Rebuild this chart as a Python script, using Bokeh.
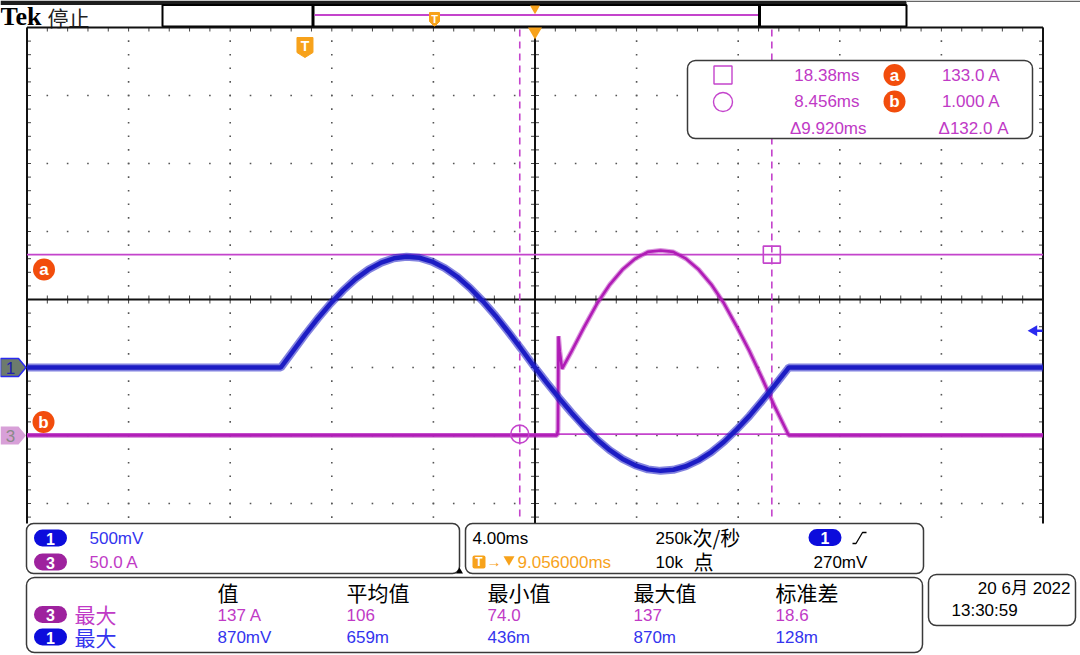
import math
from bokeh.plotting import figure
from bokeh.models import Range1d
from bokeh.embed import file_html
from bokeh.resources import INLINE
from bokeh.core.properties import value

# Channel 1 (voltage), time in ms relative to trigger, value in mV
ch1_t_ms = [-10.944, -0.95, 0.0, 0.5, 1.0, 1.5, 2.0, 2.5, 3.0, 3.5, 4.0, 4.5, 5.0, 5.5,
            6.0, 6.5, 7.0, 7.5, 8.0, 8.5, 9.0, 9.5, 10.0, 10.5, 11.0, 11.5, 12.0, 12.5,
            13.0, 13.5, 14.0, 14.5, 15.0, 15.5, 16.0, 16.5, 17.0, 17.5, 18.0, 18.5,
            19.0, 19.05, 29.056]
ch1_mV = [0, 0, 240, 359, 469, 567, 652, 720, 771, 803, 815, 807, 779, 732,
          667, 585, 488, 381, 263, 140, 13, -107, -223, -334, -437, -529, -608, -672,
          -719, -749, -760, -752, -726, -682, -622, -546, -455, -356, -245, -130,
          -12, 0, 0]
# Channel 3 (current), time in ms, value in A
ch3_t_ms = [-10.944, 9.92, 9.96, 9.98, 10.03, 10.12, 10.5, 11.0, 11.5, 12.0, 12.5, 13.0, 13.5, 14.0,
            14.5, 15.0, 15.5, 16.0, 16.5, 17.0, 17.5, 18.0, 18.5, 19.05, 29.056]
ch3_A = [0, 0, 4, 73, 62, 49, 62, 80, 97, 111, 122, 130, 135, 136,
         135, 130, 122, 111, 97, 80, 62, 42, 21, 0, 0]

cursor_t_ms = [18.38, 8.456]      # square, circle
cursor_A = [133.0, 1.0]           # a, b
trigger_level_mV = 270

readout_time = ["18.38ms", "8.456ms", "\u03949.920ms"]
readout_amp = ["133.0 A", "1.000 A", "\u0394132.0 A"]
chan_scale = ["500mV", "50.0 A"]
horiz_text = ["4.00ms", "9.056000ms", "250k", "\u6b21/\u79d2", "10k ", "\u70b9", "270mV"]
meas_headers = ["\u503c", "\u5e73\u5747\u503c", "\u6700\u5c0f\u503c", "\u6700\u5927\u503c", "\u6807\u51c6\u5dee"]
meas_ch3 = ["137 A", "106", "74.0", "137", "18.6"]
meas_ch1 = ["870mV", "659m", "436m", "870m", "128m"]
meas_label = "\u6700\u5927"
date_text = ["20 6\u6708 2022", "13:30:59"]

# scope settings
MS_PER_DIV = 4.0
H_POS_MS = 9.056
CH1_MV_PER_DIV = 500.0
CH3_A_PER_DIV = 50.0
CH1_POS_DIV = -1.0
CH3_POS_DIV = -2.0

# ---------------- geometry (screen layout) ----------------
REF_W, REF_H = 1080, 655
W, H = 1080, 655
GX0, GX1 = 26.5, 1042.5
GYT, GYB = 27.0, 521.0
DX, DY = 101.6, 68.0
XC = (GX0 + GX1) / 2
YC = GYT + 4 * DY

def t_of(px):
    return H_POS_MS + (px - XC) / DX * MS_PER_DIV

def px_of_t(t):
    return XC + (t - H_POS_MS) / MS_PER_DIV * DX

def ch1_of(py):
    return ((YC - py) / DY - CH1_POS_DIV) * CH1_MV_PER_DIV

def ch3_of(py):
    return ((YC - py) / DY - CH3_POS_DIV) * CH3_A_PER_DIV

SANS = "Liberation Sans"
CJK = "Noto Sans CJK SC"
SERIF = "Liberation Serif"
BLUE_TR = "#1c1cc4"
BLUE_TX = "#3434ee"
BLUE_PILL = "#0c0cdc"
MAG_TR = "#b01cb6"
MAG_CUR = "#c444cc"
MAG_TX = "#c03ac6"
MAG_PILL = "#9e229e"
ORANGE = "#f7a21b"
RED_OR = "#f24d0c"
FRAME = "#3a3a3a"

p = figure(width=W, height=H, x_range=Range1d(0, REF_W), y_range=Range1d(REF_H, 0),
           output_backend="svg", toolbar_location=None, min_border=0,
           x_axis_location=None, y_axis_location=None)
p.grid.visible = False
p.outline_line_color = None
p.background_fill_color = "white"
p.border_fill_color = "white"
p.extra_x_ranges = {"t": Range1d(t_of(0), t_of(REF_W))}
p.extra_y_ranges = {"ch1": Range1d(ch1_of(REF_H), ch1_of(0)),
                    "ch3": Range1d(ch3_of(REF_H), ch3_of(0))}


def txt(x, y, s, color="black", size="17px", font=SANS, align="left", style="normal", **kw):
    p.text(x=[x], y=[y], text=[s], text_color=color, text_font=value(font),
           text_font_size=size, text_align=align, text_baseline="middle",
           text_font_style=style, **kw)


def shield(cx, cy, w, h, color):
    p.patch([cx - w / 2, cx + w / 2, cx + w / 2, cx, cx - w / 2],
            [cy - h / 2, cy - h / 2, cy + h / 2 - 5, cy + h / 2, cy + h / 2 - 5],
            fill_color=color, line_color=color, line_width=1)


def pill(cx, cy, label, color):
    p.quad(left=cx - 16.5, right=cx + 16.5, top=cy - 8.5, bottom=cy + 8.5,
           fill_color=color, line_color=None, border_radius=9)
    txt(cx, cy + 0.5, label, color="white", size="16px", align="center", style="bold")


def badge(cx, cy, label):
    p.scatter(x=[cx], y=[cy], marker="circle", size=22, fill_color=RED_OR, line_color=None)
    txt(cx, cy, label, color="white", size="17px", align="center", style="bold")


# ---------------- top bar ----------------
p.quad(left=0, right=906, top=0, bottom=4.5, fill_color="#1e1e1e", line_color=None)
p.quad(left=906, right=REF_W, top=0, bottom=1.5, fill_color="#666666", line_color=None)
txt(0, 16, "Tek", size="26px", font=SERIF, style="bold")
txt(47, 16, "\u505c\u6b62", size="21px", font=CJK, color="#222222")
p.quad(left=162, right=906, top=4.5, bottom=26, fill_color="white", line_color="black", line_width=2)
p.segment(x0=[312.5, 759], y0=[4.5, 4.5], x1=[312.5, 759], y1=[26, 26], line_color="black", line_width=3)
p.segment(x0=[314], y0=[14.5], x1=[757.5], y1=[14.5], line_color=MAG_CUR, line_width=2)
shield(434, 19, 10, 14, ORANGE)
txt(434, 18, "T", color="white", size="11px", align="center", style="bold")
p.scatter(x=[H_POS_MS], y=[8], x_range_name="t", marker="inverted_triangle", size=10,
          fill_color=ORANGE, line_color=None)

# ---------------- graticule ----------------
xs_minor = [GX0 + k * DX / 5 for k in range(51)]
ys_minor = [GYT + k * DY / 5 for k in range(41) if GYT + k * DY / 5 <= GYB]

dot_x, dot_y = [], []
for k in range(1, 10):
    if k == 5:
        continue
    for yy in ys_minor[1:]:
        dot_x.append(GX0 + k * DX)
        dot_y.append(yy)
for k in range(1, 8):
    if k == 4:
        continue
    yy = GYT + k * DY
    if yy > GYB:
        continue
    for xx in xs_minor[1:-1]:
        dot_x.append(xx)
        dot_y.append(yy)
p.rect(x=dot_x, y=dot_y, width=1.6, height=1.6, fill_color="#555555", line_color=None)

# ticks on centre lines and borders
tx0, ty0, tx1, ty1 = [], [], [], []
for xx in xs_minor:
    tx0 += [xx, xx]; ty0 += [YC - 4, GYT]; tx1 += [xx, xx]; ty1 += [YC + 4, GYT + 4]
for yy in ys_minor:
    tx0 += [XC - 4, GX1 - 4, GX0]; ty0 += [yy, yy, yy]
    tx1 += [XC + 4, GX1, GX0 + 4]; ty1 += [yy, yy, yy]
p.segment(x0=tx0, y0=ty0, x1=tx1, y1=ty1, line_color="#444444", line_width=1)

p.segment(x0=[GX0, GX0, GX1, GX0, XC], y0=[GYT, GYT, GYT, YC, 36],
          x1=[GX1, GX0, GX1, GX1, XC], y1=[GYT, GYB + 2, GYB + 2, YC, GYB + 2],
          line_color="#111111", line_width=2)

# trigger markers
shield(px_of_t(0.0), 47, 16, 20, ORANGE)
txt(px_of_t(0.0), 45.5, "T", color="white", size="14px", align="center", style="bold")
p.scatter(x=[H_POS_MS], y=[31], x_range_name="t", marker="inverted_triangle", size=14,
          fill_color=ORANGE, line_color=None)

# ---------------- cursors ----------------
p.segment(x0=[GX0, GX0], x1=[GX1, GX1], y0=cursor_A, y1=cursor_A, y_range_name="ch3",
          line_color=MAG_CUR, line_width=1.6)
p.segment(x0=cursor_t_ms, x1=cursor_t_ms, y0=[GYT + 2, GYT + 2], y1=[GYB, GYB], x_range_name="t",
          line_color=MAG_CUR, line_width=1.6, line_dash="7 5")

# ---------------- waveforms ----------------
p.line(ch3_t_ms, ch3_A, x_range_name="t", y_range_name="ch3", line_color=MAG_TR,
       line_width=5, line_alpha=0.45)
p.line(ch3_t_ms, ch3_A, x_range_name="t", y_range_name="ch3", line_color=MAG_TR,
       line_width=2.6)
p.line(ch1_t_ms, ch1_mV, x_range_name="t", y_range_name="ch1", line_color=BLUE_TR,
       line_width=8, line_alpha=0.55)
p.line(ch1_t_ms, ch1_mV, x_range_name="t", y_range_name="ch1", line_color=BLUE_TR,
       line_width=4.5)

p.scatter(x=[cursor_t_ms[0]], y=[cursor_A[0]], x_range_name="t", y_range_name="ch3",
          marker="square", size=17, fill_color=None, line_color=MAG_CUR, line_width=1.6)
p.scatter(x=[cursor_t_ms[1]], y=[cursor_A[1]], x_range_name="t", y_range_name="ch3",
          marker="circle", size=18, fill_color=None, line_color=MAG_CUR, line_width=1.6)

badge(43.5, 269, "a")
badge(43, 421.5, "b")

# channel ground markers
g1 = YC - CH1_POS_DIV * DY
g3 = YC - CH3_POS_DIV * DY
p.patch([0, 18, 25.5, 18, 0], [g1 - 9, g1 - 9, g1, g1 + 9, g1 + 9],
        fill_color="#6d7b6d", line_color="#2a2af0", line_width=1.5)
txt(10, g1 + 0.5, "1", color="#2020b0", size="17px", align="center")
p.patch([0, 18, 25.5, 18, 0], [g3 - 9, g3 - 9, g3, g3 + 9, g3 + 9],
        fill_color="#d8a0d8", line_color=None)
txt(10, g3 + 0.5, "3", color="#8a8a8a", size="17px", align="center")

# trigger level arrow (right edge)
p.scatter(x=[1033.5], y=[trigger_level_mV], y_range_name="ch1", marker="triangle",
          angle=math.pi / 2, size=11, fill_color="#2a2af0", line_color=None)
p.segment(x0=[1034], x1=[1042], y0=[trigger_level_mV], y1=[trigger_level_mV], y_range_name="ch1",
          line_color="#2a2af0", line_width=2.5)

# ---------------- cursor readout box ----------------
p.quad(left=687, right=1032, top=60, bottom=138, fill_color="white", line_color=FRAME,
       line_width=1.5, border_radius=8)
p.scatter(x=[722.5], y=[74.5], marker="square", size=18, fill_color=None, line_color=MAG_CUR, line_width=1.4)
p.scatter(x=[722.5], y=[101.5], marker="circle", size=19, fill_color=None, line_color=MAG_CUR, line_width=1.4)
txt(859, 75, readout_time[0], color=MAG_TX, align="right")
txt(859, 101, readout_time[1], color=MAG_TX, align="right")
txt(866, 127.5, readout_time[2], color=MAG_TX, align="right")
badge(894, 74.5, "a")
badge(894, 101, "b")
txt(1000, 75, readout_amp[0], color=MAG_TX, align="right")
txt(1000, 101, readout_amp[1], color=MAG_TX, align="right")
txt(1008, 127.5, readout_amp[2], color=MAG_TX, align="right")

# ---------------- bottom panels ----------------
p.quad(left=GX0 - 0.5, right=459, top=523, bottom=573, fill_color="white", line_color=FRAME,
       line_width=1.5, border_radius=7)
pill(50, 537.5, "1", BLUE_PILL)
txt(89, 538, chan_scale[0], color=BLUE_TX)
pill(50, 561.5, "3", MAG_PILL)
txt(89, 562, chan_scale[1], color=MAG_TX)

p.quad(left=465, right=923, top=523, bottom=573, fill_color="white", line_color=FRAME,
       line_width=1.5, border_radius=7)
txt(472, 538, horiz_text[0])
p.quad(left=472, right=485, top=555, bottom=568, fill_color=ORANGE, line_color=None, border_radius=2)
txt(478.5, 561.5, "T", color="white", size="12px", align="center", style="bold")
txt(486, 561, "\u2192", color=ORANGE, size="15px")
p.scatter(x=[508.5], y=[559], marker="inverted_triangle", size=11, fill_color=ORANGE, line_color=None)
txt(517, 562, horiz_text[1], color=ORANGE)
txt(655, 538, horiz_text[2])
txt(692, 537, horiz_text[3], font=CJK, size="20px")
txt(655, 562, horiz_text[4])
txt(693, 561, horiz_text[5], font=CJK, size="20px")
pill(824.5, 537, "1", BLUE_PILL)
p.line([852, 855.5, 862, 866], [543, 543, 532, 532], line_color="black", line_width=1.3)
txt(813, 562, horiz_text[6])
p.scatter(x=[459], y=[571], marker="triangle", size=7, fill_color="black", line_color=None)

p.quad(left=GX0 - 0.5, right=922, top=577, bottom=652, fill_color="white", line_color=FRAME,
       line_width=1.5, border_radius=8)
col_x = [217, 346, 487, 633, 775]
for cx, h in zip(col_x, meas_headers):
    txt(cx, 591, h, font=CJK, size="21px")
pill(50, 614, "3", MAG_PILL)
txt(74, 613.5, meas_label, color=MAG_TX, font=CJK, size="21px")
pill(50, 636.5, "1", BLUE_PILL)
txt(74, 636, meas_label, color=BLUE_TX, font=CJK, size="21px")
for cx, a, b in zip(col_x, meas_ch3, meas_ch1):
    txt(cx, 614.5, a, color=MAG_TX)
    txt(cx, 637, b, color=BLUE_TX)

p.quad(left=928, right=1075, top=574, bottom=625, fill_color="white", line_color=FRAME,
       line_width=1.5, border_radius=8)
txt(1070, 587.5, date_text[0], align="right", font=SANS + ", " + CJK)
txt(951, 610, date_text[1])

open("out.html", "w").write(file_html(p, INLINE))
